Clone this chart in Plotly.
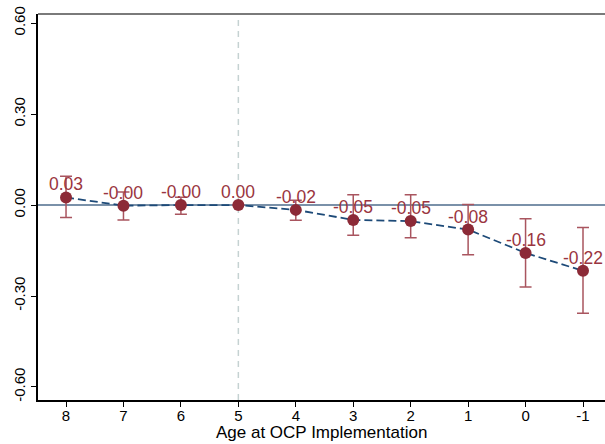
import plotly.graph_objects as go

ages = [8, 7, 6, 5, 4, 3, 2, 1, 0, -1]
coef = [0.025, -0.002, 0.0, 0.0, -0.016, -0.049, -0.053, -0.081, -0.158, -0.217]
labels = ["0.03", "-0.00", "-0.00", "0.00", "-0.02", "-0.05", "-0.05", "-0.08", "-0.16", "-0.22"]
ci_hi = [0.095, 0.043, 0.026, 0.0, 0.016, 0.034, 0.034, 0.002, -0.045, -0.074]
ci_lo = [-0.041, -0.049, -0.030, 0.0, -0.050, -0.100, -0.108, -0.164, -0.270, -0.357]
y_ticks = [0.6, 0.3, 0.0, -0.3, -0.6]
y_ticktext = ["0.60", "0.30", "0.00", "-0.30", "-0.60"]
x_title = "Age at OCP Implementation"

err_plus = [h - c for h, c in zip(ci_hi, coef)]
err_minus = [c - l for c, l in zip(coef, ci_lo)]
err_vis = [a != 5 for a in ages]
err_plus = [e if v else None for e, v in zip(err_plus, err_vis)]
err_minus = [e if v else None for e, v in zip(err_minus, err_vis)]

FONT = "Liberation Sans, Arial, sans-serif"
RED = "#8c2a37"
TXT = "#9a3540"

fig = go.Figure()

fig.add_trace(go.Scatter(
    x=ages, y=coef, mode="markers",
    marker=dict(size=1, color="rgba(0,0,0,0)"),
    error_y=dict(type="data", symmetric=False, array=err_plus, arrayminus=err_minus,
                 color="#a9555f", thickness=1.5, width=6),
    showlegend=False, hoverinfo="skip"))

fig.add_trace(go.Scatter(
    x=ages, y=coef, mode="lines",
    line=dict(color="#1d4a78", width=1.8, dash="8px,4px"),
    showlegend=False))

fig.add_trace(go.Scatter(
    x=ages, y=coef, mode="markers",
    marker=dict(size=12, color=RED, line=dict(width=0)),
    showlegend=False))

for a, c, t in zip(ages, coef, labels):
    fig.add_annotation(x=a, y=c, text=t, showarrow=False, yshift=13,
                       font=dict(family=FONT, size=17.5, color=TXT))

fig.add_annotation(xref="paper", yref="paper", x=0.5, y=0, text=x_title, showarrow=False,
                   yanchor="middle", yshift=-32, borderpad=0,
                   font=dict(family=FONT, size=17, color="black"))

fig.add_shape(type="line", xref="paper", x0=0, x1=1, yref="y", y0=0, y1=0,
              line=dict(color="#4e6d8c", width=1.5), layer="below")
fig.add_shape(type="line", xref="x", x0=5, x1=5, yref="paper", y0=0, y1=1,
              line=dict(color="#c5d2d2", width=1.5, dash="6px,5px"), layer="below")
fig.add_shape(type="line", xref="paper", x0=0, x1=1, yref="paper", y0=1, y1=1,
              line=dict(color="#7a7a7a", width=2))

fig.update_layout(
    width=605, height=444,
    margin=dict(l=38, r=0, t=14, b=44),
    paper_bgcolor="white", plot_bgcolor="white",
    font=dict(family=FONT, color="black"),
    xaxis=dict(range=[8.488, -1.383], tickvals=ages, ticktext=[str(a) for a in ages],
               showgrid=False, zeroline=False, showline=True, linecolor="black", linewidth=1.5,
               ticks="outside", ticklen=5, tickcolor="black", tickwidth=1,
               ticklabelstandoff=-4, tickfont=dict(family=FONT, size=15)),
    yaxis=dict(range=[-0.643, 0.630], tickvals=y_ticks, ticktext=y_ticktext,
               showgrid=False, zeroline=False, showline=True, linecolor="black", linewidth=1.5,
               ticks="outside", ticklen=5, tickcolor="black", tickwidth=1,
               tickangle=-90, tickfont=dict(family=FONT, size=15)),
)

fig.write_html("out.html")
